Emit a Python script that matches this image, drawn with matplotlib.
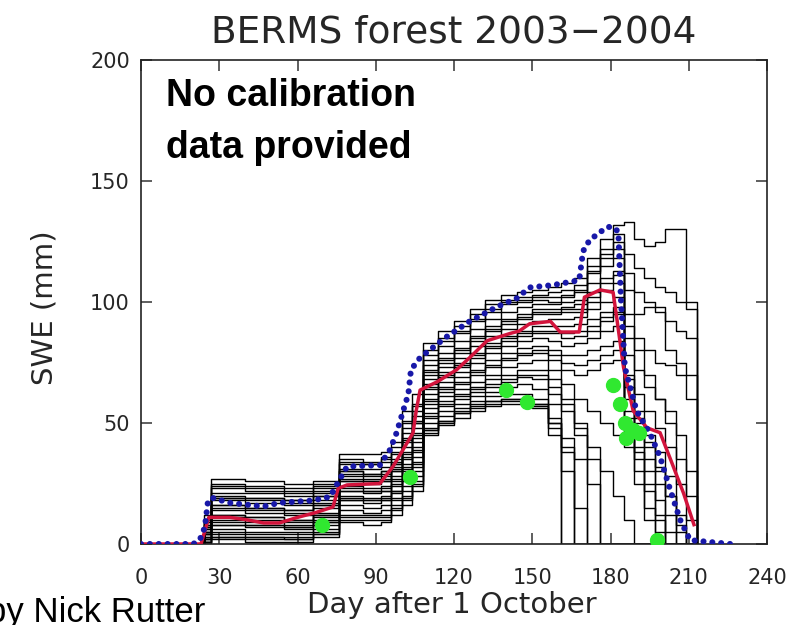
import matplotlib
matplotlib.use("Agg")
import matplotlib.pyplot as plt

# ---------------- data ----------------
title = "BERMS forest 2003\u22122004"
x_ticks = [0, 30, 60, 90, 120, 150, 180, 210, 240]
y_ticks = [0, 50, 100, 150, 200]

# ensemble members (step series on a common day grid)
ens_days = [0, 24, 27, 40, 55, 66, 76, 85, 92, 96, 100, 104, 108, 114, 120, 126, 132, 138,
            144, 150, 156, 161, 166, 171, 176, 181, 185, 189, 193, 197, 201, 205, 209, 213]
ens_01 = [0, 12, 27, 26, 25, 26, 37, 37, 38, 42, 55, 62, 83, 88, 92, 97, 101, 103,
          104, 105, 106, 108, 110, 118, 126, 132, 133, 126, 123, 125, 130, 130, 100, 0]
ens_02 = [0, 10, 25, 24, 23, 25, 35, 34, 36, 40, 51, 58, 80, 85, 90, 95, 99, 101,
          102, 103, 104, 105, 107, 115, 122, 128, 120, 114, 110, 106, 104, 100, 97, 0]
ens_21 = [0, 9, 24, 23, 22, 24, 34, 33, 35, 38, 50, 57, 78, 84, 88, 93, 97, 100,
          101, 102, 102, 103, 105, 113, 120, 125, 112, 104, 100, 96, 92, 88, 85, 0]
ens_03 = [0, 9, 23, 22, 21, 23, 33, 33, 34, 37, 48, 55, 76, 82, 87, 92, 96, 99,
          100, 101, 100, 102, 104, 112, 118, 122, 105, 95, 98, 98, 80, 75, 70, 0]
ens_04 = [0, 8, 21, 21, 20, 22, 31, 31, 32, 35, 46, 53, 74, 79, 84, 89, 93, 96,
          98, 99, 99, 100, 101, 108, 115, 118, 95, 85, 80, 75, 74, 70, 60, 0]
ens_05 = [0, 8, 20, 19, 18, 21, 30, 29, 30, 34, 44, 51, 72, 77, 81, 86, 90, 93,
          95, 97, 97, 98, 99, 104, 110, 113, 85, 72, 65, 60, 55, 45, 30, 0]
ens_22 = [0, 7, 19, 19, 18, 20, 30, 29, 30, 33, 43, 50, 71, 76, 80, 85, 89, 92,
          94, 96, 96, 97, 97, 102, 108, 111, 90, 80, 70, 60, 50, 35, 20, 0]
ens_06 = [0, 7, 19, 18, 17, 20, 29, 28, 29, 33, 42, 50, 70, 75, 79, 84, 88, 91,
          93, 95, 95, 96, 96, 100, 105, 108, 78, 62, 55, 48, 40, 25, 10, 0]
ens_07 = [0, 6, 18, 17, 16, 18, 28, 27, 28, 32, 40, 48, 68, 73, 77, 82, 86, 89,
          91, 92, 93, 93, 94, 97, 100, 102, 70, 55, 45, 38, 28, 12, 0, 0]
ens_08 = [0, 6, 16, 15, 14, 17, 27, 26, 27, 31, 38, 46, 66, 71, 75, 79, 83, 86,
          88, 90, 90, 90, 91, 93, 96, 98, 65, 50, 40, 30, 20, 5, 0, 0]
ens_23 = [0, 5, 16, 15, 14, 16, 26, 26, 26, 30, 37, 45, 65, 70, 74, 78, 82, 85,
          87, 88, 88, 87, 88, 90, 94, 96, 68, 52, 42, 32, 20, 8, 0, 0]
ens_09 = [0, 5, 15, 14, 13, 16, 26, 25, 26, 30, 36, 44, 64, 69, 73, 77, 81, 84,
          86, 87, 87, 85, 86, 88, 92, 95, 60, 45, 35, 25, 12, 0, 0, 0]
ens_10 = [0, 5, 14, 13, 12, 15, 24, 23, 24, 28, 35, 42, 62, 67, 71, 75, 79, 82,
          84, 85, 84, 82, 83, 85, 88, 90, 55, 40, 30, 18, 5, 0, 0, 0]
ens_11 = [0, 4, 12, 11, 10, 13, 23, 22, 23, 27, 33, 40, 60, 65, 69, 72, 76, 79,
          81, 82, 80, 78, 78, 80, 82, 84, 50, 35, 22, 10, 0, 0, 0, 0]
ens_24 = [0, 4, 12, 11, 10, 12, 22, 22, 22, 26, 32, 39, 59, 64, 67, 71, 74, 77,
          79, 80, 78, 75, 74, 76, 78, 80, 52, 38, 25, 12, 0, 0, 0, 0]
ens_12 = [0, 4, 11, 10, 9, 12, 22, 21, 22, 25, 31, 38, 58, 63, 66, 70, 73, 76,
          78, 79, 76, 72, 70, 72, 75, 76, 45, 30, 15, 5, 0, 0, 0, 0]
ens_13 = [0, 3, 10, 9, 8, 11, 20, 19, 20, 24, 30, 36, 56, 61, 64, 67, 70, 73,
          75, 76, 72, 66, 60, 55, 50, 45, 40, 25, 10, 0, 0, 0, 0, 0]
ens_14 = [0, 3, 9, 8, 7, 10, 19, 18, 19, 22, 28, 34, 54, 59, 62, 65, 68, 70,
          72, 72, 68, 60, 50, 40, 30, 20, 10, 0, 0, 0, 0, 0, 0, 0]
ens_25 = [0, 2, 8, 8, 7, 9, 18, 18, 18, 22, 27, 33, 53, 58, 61, 64, 66, 68,
          70, 70, 65, 58, 48, 35, 0, 0, 0, 0, 0, 0, 0, 0, 0, 0]
ens_15 = [0, 2, 8, 7, 6, 9, 18, 17, 18, 21, 26, 32, 52, 57, 60, 63, 65, 67,
          69, 68, 62, 55, 45, 0, 0, 0, 0, 0, 0, 0, 0, 0, 0, 0]
ens_16 = [0, 2, 6, 5, 5, 8, 16, 15, 16, 19, 24, 30, 50, 55, 58, 61, 63, 65,
          66, 64, 58, 0, 0, 0, 0, 0, 0, 0, 0, 0, 0, 0, 0, 0]
ens_17 = [0, 1, 5, 4, 4, 6, 14, 13, 14, 18, 22, 28, 48, 53, 56, 59, 61, 62,
          62, 60, 52, 40, 0, 0, 0, 0, 0, 0, 0, 0, 0, 0, 0, 0]
ens_18 = [0, 1, 4, 3, 3, 5, 12, 12, 12, 16, 20, 26, 47, 51, 55, 58, 59, 60,
          60, 58, 50, 44, 35, 25, 0, 0, 0, 0, 0, 0, 0, 0, 0, 0]
ens_26 = [0, 1, 3, 3, 2, 4, 11, 11, 11, 15, 19, 25, 47, 51, 54, 57, 59, 60,
          60, 58, 50, 38, 0, 0, 0, 0, 0, 0, 0, 0, 0, 0, 0, 0]
ens_19 = [0, 1, 3, 2, 2, 4, 10, 10, 10, 14, 18, 24, 46, 50, 54, 56, 58, 59,
          59, 57, 48, 30, 15, 0, 0, 0, 0, 0, 0, 0, 0, 0, 0, 0]
ens_20 = [0, 0, 2, 1, 1, 3, 9, 8, 9, 12, 16, 22, 45, 49, 52, 55, 57, 58,
          58, 56, 45, 0, 0, 0, 0, 0, 0, 0, 0, 0, 0, 0, 0, 0]
ensemble = [ens_01, ens_02, ens_21, ens_03, ens_04, ens_05, ens_22, ens_06, ens_07,
            ens_08, ens_23, ens_09, ens_10, ens_11, ens_24, ens_12, ens_13, ens_14,
            ens_25, ens_15, ens_16, ens_17, ens_18, ens_26, ens_19, ens_20]

# blue dotted series
blue_days = [0, 20, 22.5, 24.5, 25.7, 27.6, 34, 47, 53, 66, 72.5, 75.6, 79, 91.6, 95.5,
             98, 100.5, 102.5, 103.5, 107, 117, 126, 136.5, 144, 149, 158, 168, 169.5,
             172, 178.7, 181, 183, 184, 185.5, 190, 195, 199, 203, 206.7, 210.5, 226]
blue_swe = [0, 0, 1.6, 7, 18, 19, 17, 15.5, 17, 18, 19.5, 25.6, 32, 32.6, 39,
            46, 55, 62, 72, 77, 85.5, 92, 98, 101.5, 106, 107, 109, 121,
            125.6, 131, 131, 129, 101, 73, 55, 46, 36, 22, 10, 1.6, 0]

# red mean series
red_days = [0, 23, 26, 34, 40.6, 47, 53, 60, 67, 73.6, 75.6, 79, 91.6, 96.6, 104.3, 105.5,
            107, 113.5, 121, 126, 132.7, 141.5, 145, 149, 157, 160.7, 168, 170, 176, 181,
            182.5, 185, 188.7, 194, 199, 203, 208, 212]
red_swe = [0, 0, 11, 11, 10, 8.7, 8.7, 11, 13, 15.3, 23, 24.4, 25, 32, 45.9, 55,
           63.6, 67, 72, 77, 84, 87, 88, 91, 92, 87.6, 87.6, 102, 105, 104,
           92.6, 73, 55, 48, 46, 35, 21, 8]

# green observations
obs_days = [69.4, 103, 140, 148, 181, 183.7, 185.6, 188.6, 191, 186, 198]
obs_swe = [7.8, 27.7, 63.6, 58.7, 65.7, 58, 50, 47, 46, 44, 1.6]

# ---------------- figure ----------------
W, H = 808, 625
fig = plt.figure(figsize=(W / 100, H / 100), dpi=100)
L, R, B, T = 141, 767, 544, 60
ax = fig.add_axes([L / W, 1 - B / H, (R - L) / W, (B - T) / H])

for m in ensemble:
    ax.plot(ens_days, m, color="black", lw=1.0, drawstyle="steps-post", zorder=2)

ax.plot(red_days, red_swe, color="#d2143c", lw=2.5, zorder=3, solid_joinstyle="round")
ax.plot(blue_days, blue_swe, color="#1818a8", lw=4.4, linestyle=(0, (0.001, 1.45)),
        dash_capstyle="round", zorder=4)
ax.plot(obs_days, obs_swe, linestyle="none", marker="o", markersize=10,
        color="#30e830", markeredgecolor="#30e830", zorder=5)

ax.set_xlim(0, 240)
ax.set_ylim(0, 200)
ax.set_xticks(x_ticks)
ax.set_yticks(y_ticks)
ax.set_xticklabels([str(v) for v in x_ticks])
ax.set_yticklabels([str(v) for v in y_ticks])

txtcol = "#262626"
ax.tick_params(axis="both", direction="in", top=True, right=True, length=8, width=1.1,
               color="#333333", labelsize=15, labelcolor=txtcol)
ax.tick_params(axis="x", pad=17)
ax.tick_params(axis="y", pad=8)
for s in ax.spines.values():
    s.set_linewidth(1.2)
    s.set_color("#222222")

ax.set_xlabel("Day after 1 October", fontsize=21, color=txtcol, va="center")
ax.xaxis.set_label_coords((452 - L) / (R - L), (B - 605) / (B - T))
ax.set_ylabel("SWE (mm)", fontsize=21, color=txtcol, va="center")
ax.yaxis.set_label_coords((45 - L) / (R - L), (B - 308) / (B - T))
ax.set_title(title, fontsize=27, color=txtcol, y=(B - 33) / (B - T), va="center", pad=0)

# annotations
bold = dict(family=["Liberation Sans", "DejaVu Sans"], weight="bold", fontsize=27,
            color="black")
fig.text(166 / W, 1 - 106 / H, "No calibration", va="baseline", ha="left", **bold)
fig.text(166 / W, 1 - 158 / H, "data provided", va="baseline", ha="left", **bold)
fig.text(-13 / W, 3 / H, "by Nick Rutter", va="baseline", ha="left",
         family=["Liberation Sans", "DejaVu Sans"], fontsize=25, color="black")

fig.savefig("out.png", dpi=100)
